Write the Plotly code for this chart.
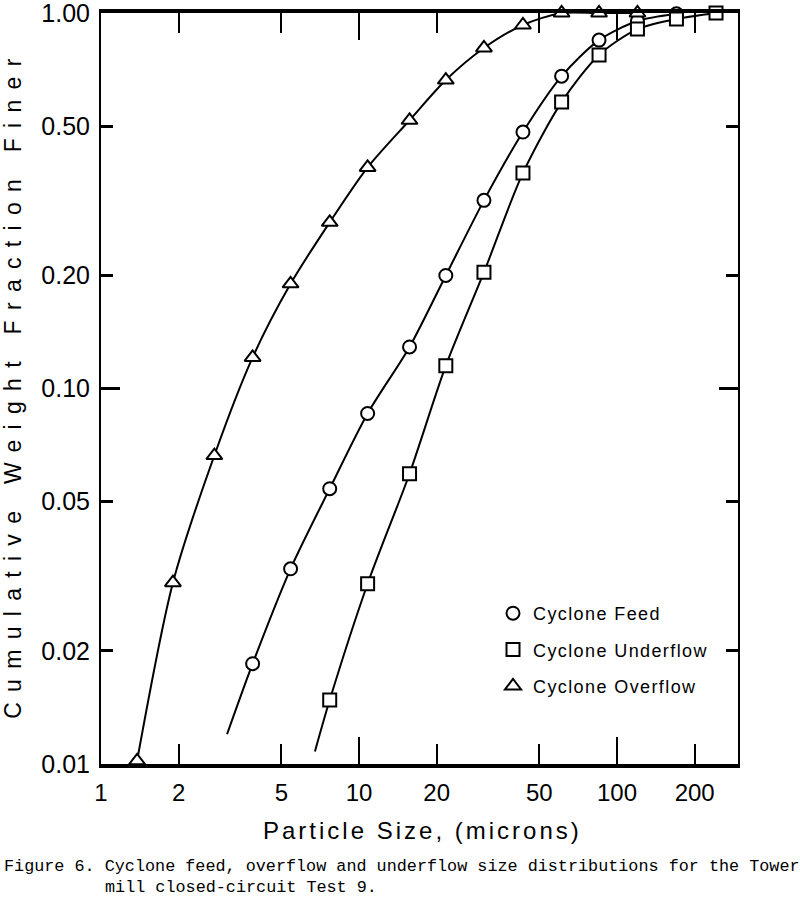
import plotly.graph_objects as go

# ---- data ----
sizes = [1.38, 1.9, 2.75, 3.87, 5.43, 7.7, 10.8, 15.7, 21.7, 30.5, 43.2, 61, 85.2, 120, 170, 242]

overflow_x = sizes[0:14]
overflow_y = [0.0102, 0.0304, 0.0663, 0.121, 0.190, 0.277, 0.388, 0.518, 0.663, 0.807, 0.929, 1.0, 1.0, 1.0]

feed_x = sizes[3:15]
feed_y = [0.0185, 0.0331, 0.0541, 0.0858, 0.129, 0.200, 0.317, 0.482, 0.679, 0.847, 0.952, 0.995]

underflow_x = sizes[5:16]
underflow_y = [0.0148, 0.0302, 0.0593, 0.115, 0.204, 0.375, 0.579, 0.773, 0.906, 0.964, 1.0]

# where the drawn curves begin below the first measured point
feed_tail_x, feed_tail_y = [3.08], [0.0120]
underflow_tail_x, underflow_tail_y = [6.75], [0.0108]

x_ticks = [1, 2, 5, 10, 20, 50, 100, 200]
x_ticktext = ["1", "2", "5", "10", "20", "50", "100", "200"]
y_ticks = [0.01, 0.02, 0.05, 0.1, 0.2, 0.5, 1.0]
y_ticktext = ["0.01", "0.02", "0.05", "0.10", "0.20", "0.50", "1.00"]

names = ["Cyclone Feed", "Cyclone Underflow", "Cyclone Overflow"]

SANS = "Liberation Sans, Arial, sans-serif"
MONO = "Liberation Mono, Courier New, monospace"

fig = go.Figure()

# curves
line_style = dict(color="black", width=2, shape="spline", smoothing=0.8)
fig.add_trace(go.Scatter(x=overflow_x, y=overflow_y, mode="lines", line=line_style,
                         showlegend=False, hoverinfo="skip"))
fig.add_trace(go.Scatter(x=feed_tail_x + feed_x, y=feed_tail_y + feed_y, mode="lines",
                         line=line_style, showlegend=False, hoverinfo="skip"))
fig.add_trace(go.Scatter(x=underflow_tail_x + underflow_x, y=underflow_tail_y + underflow_y,
                         mode="lines", line=line_style, showlegend=False, hoverinfo="skip"))

# markers
def mk(symbol, size):
    return dict(symbol=symbol, size=size, color="white", line=dict(color="black", width=2))

fig.add_trace(go.Scatter(x=feed_x, y=feed_y, mode="markers", name=names[0],
                         marker=mk("circle", 13), cliponaxis=False, legendgroup="a"))
fig.add_trace(go.Scatter(x=underflow_x, y=underflow_y, mode="markers", name=names[1],
                         marker=mk("square", 13), cliponaxis=False, legendgroup="b"))
fig.add_trace(go.Scatter(x=overflow_x, y=overflow_y, mode="markers", name=names[2],
                         marker=mk("triangle-up", 14), cliponaxis=False, legendgroup="c"))

# empty traces so the overlay axes (longer decade ticks) get drawn
fig.add_trace(go.Scatter(x=[], y=[], xaxis="x2", yaxis="y", showlegend=False))
fig.add_trace(go.Scatter(x=[], y=[], xaxis="x", yaxis="y2", showlegend=False))

L, R, T, B = 101, 738, 13, 764
W, H = 800, 903
pw, ph = R - L, B - T

def px(xp):
    return (xp - L) / pw

def py(yp):
    return (B - yp) / ph

xr = [0, 2.469]
yr = [-2, 0]

fig.update_layout(
    template="none",
    width=W, height=H,
    margin=dict(l=L, r=W - R, t=T, b=H - B, autoexpand=False),
    paper_bgcolor="white", plot_bgcolor="white",
    font=dict(family=SANS, color="black"),
    xaxis=dict(type="log", range=xr, tickvals=x_ticks, ticktext=x_ticktext,
               ticks="inside", ticklen=20, tickwidth=2, tickcolor="black",
               showline=True, linewidth=4, linecolor="black", mirror="ticks",
               showgrid=False, zeroline=False, ticklabelstandoff=4, automargin=False,
               ticklabeloverflow="allow",
               tickfont=dict(size=24, family=SANS, color="black")),
    xaxis2=dict(type="log", range=xr, overlaying="x", anchor="y", side="bottom",
                tickvals=[10, 100], ticks="inside", ticklen=27, tickwidth=2,
                tickcolor="black", showticklabels=False, showline=True, linewidth=4,
                linecolor="black", mirror="ticks", showgrid=False, zeroline=False,
                automargin=False),
    yaxis=dict(type="log", range=yr, tickvals=y_ticks, ticktext=y_ticktext,
               ticks="inside", ticklen=12, tickwidth=3, tickcolor="black",
               showline=True, linewidth=2, linecolor="black", mirror="ticks",
               showgrid=False, zeroline=False, ticklabelstandoff=4, automargin=False,
               ticklabeloverflow="allow",
               tickfont=dict(size=25, family=SANS, color="black")),
    yaxis2=dict(type="log", range=yr, overlaying="y", anchor="x", side="left",
                tickvals=[0.1], ticks="inside", ticklen=19, tickwidth=3,
                tickcolor="black", showticklabels=False, showline=True, linewidth=2,
                linecolor="black", mirror="ticks", showgrid=False, zeroline=False,
                automargin=False),
    showlegend=True,
    legend=dict(x=px(493), y=py(595), xanchor="left", yanchor="top",
                bgcolor="rgba(0,0,0,0)", borderwidth=0, tracegroupgap=10,
                font=dict(size=18, family=SANS, color="black"), itemsizing="trace"),
    annotations=[
        dict(text="Cumulative Weight Fraction Finer", xref="paper", yref="paper",
             x=px(13), y=py(384), xanchor="center", yanchor="middle", textangle=-90,
             showarrow=False, font=dict(size=23, family=SANS, color="black")),
        dict(text="Particle Size, (microns)", xref="paper", yref="paper",
             x=px(422), y=py(830), xanchor="center", yanchor="middle",
             showarrow=False, font=dict(size=24, family=SANS, color="black")),
        dict(text="Figure 6. Cyclone feed, overflow and underflow size distributions for the Tower",
             xref="paper", yref="paper", x=px(2), y=py(866), xanchor="left", yanchor="middle",
             showarrow=False, font=dict(size=16.8, family=MONO, color="black")),
        dict(text="mill closed-circuit Test 9.",
             xref="paper", yref="paper", x=px(103), y=py(888), xanchor="left", yanchor="middle",
             showarrow=False, font=dict(size=16.8, family=MONO, color="black")),
    ],
)

post = """
var gd = document.getElementById('{plot_id}');
function spacing(){
  var anns = gd.querySelectorAll('g.annotation');
  anns.forEach(function(g){
    var i = g.getAttribute('data-index');
    var t = g.querySelector('text.annotation-text');
    if(!t) return;
    if(i === '0'){ t.style.letterSpacing = '10.3px'; }
    if(i === '1'){ t.style.letterSpacing = '3px'; }
  });
  gd.querySelectorAll('text.legendtext').forEach(function(t){ t.style.letterSpacing = '1.4px'; });
  gd.querySelectorAll('g.legend g.scrollbox').forEach(function(s){ s.removeAttribute('clip-path'); });
  gd.querySelectorAll('g.legend').forEach(function(s){ s.removeAttribute('clip-path'); });
}
spacing();
gd.on('plotly_afterplot', spacing);
"""

fig.write_html("out.html", post_script=post)
